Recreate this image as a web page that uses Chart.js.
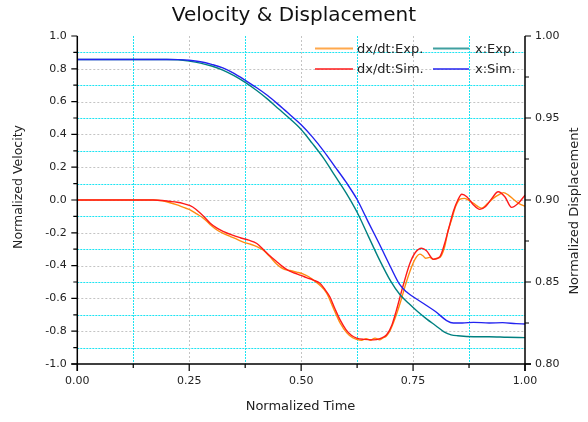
<!DOCTYPE html>
<html>
<head>
<meta charset="utf-8">
<script src="https://cdn.jsdelivr.net/npm/chart.js@4/dist/chart.umd.min.js"></script>
<style>
  html, body { margin: 0; padding: 0; background: #fff; }
  #wrap { width: 588px; height: 422px; }
</style>
</head>
<body>
<div id="wrap"><canvas id="c" width="588" height="422"></canvas></div>
<script>
// Normalized velocity, experiment (dx/dt:Exp.)
const velExpTime = [0, 0.10, 0.17, 0.19, 0.205, 0.223, 0.237, 0.252, 0.267, 0.282, 0.297, 0.312, 0.327, 0.342, 0.357, 0.372, 0.387, 0.401, 0.415, 0.43, 0.445, 0.46, 0.475, 0.49, 0.505, 0.517, 0.527, 0.542, 0.557, 0.572, 0.587, 0.602, 0.615, 0.624, 0.635, 0.645, 0.655, 0.665, 0.675, 0.683, 0.69, 0.698, 0.71, 0.721, 0.735, 0.75, 0.758, 0.765, 0.772, 0.778, 0.787, 0.795, 0.803, 0.81, 0.82, 0.828, 0.836, 0.845, 0.855, 0.865, 0.873, 0.885, 0.895, 0.903, 0.915, 0.929, 0.94, 0.952, 0.963, 0.974, 0.986, 1.0];
const velExp = [0, 0, 0, -0.005, -0.015, -0.03, -0.045, -0.06, -0.085, -0.112, -0.15, -0.183, -0.205, -0.223, -0.24, -0.258, -0.27, -0.284, -0.305, -0.345, -0.39, -0.42, -0.43, -0.44, -0.452, -0.468, -0.487, -0.52, -0.568, -0.66, -0.75, -0.81, -0.84, -0.85, -0.856, -0.845, -0.855, -0.842, -0.852, -0.84, -0.83, -0.80, -0.72, -0.63, -0.50, -0.386, -0.345, -0.33, -0.34, -0.355, -0.35, -0.362, -0.355, -0.35, -0.29, -0.19, -0.12, -0.04, 0.005, 0.01, 0.0, -0.02, -0.04, -0.05, -0.025, 0.01, 0.03, 0.045, 0.03, 0.005, -0.02, -0.038];

// Normalized velocity, simulation (dx/dt:Sim.)
const velSimTime = [0, 0.17, 0.19, 0.205, 0.223, 0.237, 0.252, 0.264, 0.275, 0.286, 0.297, 0.312, 0.327, 0.345, 0.364, 0.383, 0.401, 0.415, 0.43, 0.445, 0.458, 0.47, 0.485, 0.5, 0.512, 0.527, 0.542, 0.553, 0.564, 0.575, 0.587, 0.6, 0.612, 0.624, 0.64, 0.661, 0.676, 0.691, 0.703, 0.713, 0.728, 0.743, 0.755, 0.769, 0.78, 0.795, 0.81, 0.82, 0.829, 0.84, 0.85, 0.859, 0.87, 0.885, 0.899, 0.912, 0.926, 0.94, 0.955, 0.97, 0.985, 1.0];
const velSim = [0, 0, -0.003, -0.008, -0.014, -0.022, -0.035, -0.055, -0.081, -0.11, -0.142, -0.172, -0.193, -0.213, -0.23, -0.245, -0.265, -0.3, -0.34, -0.375, -0.405, -0.428, -0.445, -0.46, -0.473, -0.488, -0.508, -0.545, -0.59, -0.66, -0.731, -0.79, -0.825, -0.842, -0.85, -0.853, -0.845, -0.822, -0.76, -0.67, -0.52, -0.386, -0.32, -0.294, -0.31, -0.361, -0.345, -0.27, -0.18, -0.07, 0.0, 0.035, 0.02, -0.03, -0.057, -0.04, 0.01, 0.05, 0.02, -0.045, -0.02, 0.03];

// Normalized displacement, experiment (x:Exp.)
const dispExpTime = [0, 0.2, 0.225, 0.25, 0.275, 0.3, 0.325, 0.35, 0.375, 0.4, 0.425, 0.45, 0.475, 0.5, 0.525, 0.55, 0.575, 0.6, 0.625, 0.65, 0.675, 0.7, 0.72, 0.74, 0.76, 0.78, 0.8, 0.82, 0.835, 0.85, 0.885, 0.92, 0.96, 1.0];
const dispExp = [0.9857, 0.9857, 0.9855, 0.9847, 0.9835, 0.9817, 0.9792, 0.9758, 0.9717, 0.9669, 0.9615, 0.9555, 0.9495, 0.943, 0.9345, 0.9255, 0.915, 0.9045, 0.8925, 0.878, 0.8635, 0.8505, 0.8425, 0.837, 0.832, 0.8275, 0.8235, 0.8195, 0.8178, 0.8172, 0.8166, 0.8166, 0.8163, 0.8161];

// Normalized displacement, simulation (x:Sim.)
const dispSimTime = [0, 0.2, 0.225, 0.25, 0.275, 0.3, 0.325, 0.35, 0.375, 0.4, 0.425, 0.45, 0.475, 0.5, 0.525, 0.55, 0.575, 0.6, 0.625, 0.65, 0.675, 0.7, 0.72, 0.735, 0.75, 0.775, 0.8, 0.825, 0.84, 0.86, 0.885, 0.92, 0.95, 0.98, 1.0];
const dispSim = [0.9857, 0.9857, 0.9856, 0.9852, 0.9843, 0.9827, 0.9806, 0.9772, 0.973, 0.9686, 0.9637, 0.958, 0.952, 0.9459, 0.9385, 0.93, 0.9205, 0.911, 0.9003, 0.8865, 0.873, 0.859, 0.8485, 0.844, 0.841, 0.8366, 0.832, 0.8265, 0.825, 0.825, 0.8254, 0.825, 0.8252, 0.8246, 0.8244];

// Tick values
const timeTicks = [0, 0.25, 0.5, 0.75, 1.0];
const velTicks = [-1.0, -0.8, -0.6, -0.4, -0.2, 0.0, 0.2, 0.4, 0.6, 0.8, 1.0];
const dispTicks = [0.80, 0.85, 0.90, 0.95, 1.00];

const FONT = "'DejaVu Sans', sans-serif";
const zip = (xs, ys) => xs.map((x, i) => ({ x, y: ys[i] }));

// legend slot [column, row] for each series
const series = [
  { label: 'dx/dt:Exp.', data: zip(velExpTime, velExp), color: '#ff8c10', axis: 'y', order: 4, slot: [0, 0] },
  { label: 'dx/dt:Sim.', data: zip(velSimTime, velSim), color: '#ff1a1a', axis: 'y', order: 3, slot: [0, 1] },
  { label: 'x:Exp.', data: zip(dispExpTime, dispExp), color: '#008080', axis: 'y2', order: 2, slot: [1, 0] },
  { label: 'x:Sim.', data: zip(dispSimTime, dispSim), color: '#2323f0', axis: 'y2', order: 1, slot: [1, 1] }
];

// Grid lines, axis lines, tick marks, axis titles and legend
const decor = {
  id: 'decor',
  beforeDatasetsDraw(chart) {
    const { ctx, chartArea: a, scales } = chart;
    ctx.save();
    ctx.lineWidth = 1;
    // horizontal grid (velocity tenths)
    for (let k = -9; k <= 9; k++) {
      const y = Math.round(scales.y.getPixelForValue(k / 10)) + 0.5;
      const odd = Math.abs(k) % 2 === 1;
      ctx.strokeStyle = odd ? '#1de4f2' : '#c4c4c4';
      ctx.setLineDash(odd ? [2, 1] : [2, 2]);
      ctx.beginPath(); ctx.moveTo(a.left, y); ctx.lineTo(a.right, y); ctx.stroke();
    }
    // vertical grid (time eighths)
    for (let k = 1; k <= 7; k++) {
      const x = Math.round(scales.x.getPixelForValue(k / 8)) + 0.5;
      const odd = k % 2 === 1;
      ctx.strokeStyle = odd ? '#1de4f2' : '#c4c4c4';
      ctx.setLineDash(odd ? [2, 1] : [2, 2]);
      ctx.beginPath(); ctx.moveTo(x, a.top); ctx.lineTo(x, a.bottom); ctx.stroke();
    }
    ctx.restore();
  },
  afterDraw(chart) {
    const { ctx, chartArea: a, scales } = chart;
    ctx.save();
    ctx.strokeStyle = '#000';
    ctx.lineWidth = 1.5;
    ctx.setLineDash([]);
    // axis lines
    ctx.beginPath();
    ctx.moveTo(a.left, a.top); ctx.lineTo(a.left, a.bottom + 7);
    ctx.moveTo(a.left - 6, a.bottom); ctx.lineTo(a.right + 6, a.bottom);
    ctx.moveTo(a.right, a.top); ctx.lineTo(a.right, a.bottom + 7);
    ctx.stroke();
    ctx.lineWidth = 1.2;
    ctx.beginPath();
    // left ticks
    for (let k = -10; k <= 10; k++) {
      const y = scales.y.getPixelForValue(k / 10);
      const len = k % 2 === 0 ? 6 : 4;
      ctx.moveTo(a.left - len, y); ctx.lineTo(a.left, y);
    }
    // right ticks
    for (let k = 0; k <= 8; k++) {
      const y = scales.y2.getPixelForValue(0.8 + k * 0.025);
      const len = k % 2 === 0 ? 6 : 4;
      ctx.moveTo(a.right, y); ctx.lineTo(a.right + len, y);
    }
    // bottom ticks
    for (let k = 0; k <= 8; k++) {
      const x = scales.x.getPixelForValue(k / 8);
      const len = k % 2 === 0 ? 7 : 4;
      ctx.moveTo(x, a.bottom); ctx.lineTo(x, a.bottom + len);
    }
    ctx.stroke();

    // axis titles
    ctx.fillStyle = '#222';
    ctx.textBaseline = 'middle';
    ctx.textAlign = 'center';
    ctx.font = '13px ' + FONT;
    ctx.fillText('Normalized Time', 300.5, 407);
    ctx.save();
    ctx.translate(18.5, 187);
    ctx.rotate(-Math.PI / 2);
    ctx.font = '12.5px ' + FONT;
    ctx.fillText('Normalized Velocity', 0, 0);
    ctx.restore();
    ctx.save();
    ctx.translate(574.5, 211);
    ctx.rotate(-Math.PI / 2);
    ctx.font = '13px ' + FONT;
    ctx.fillText('Normalized Displacement', 0, 0);
    ctx.restore();

    // legend, two columns
    const cols = [[315, 353, 357], [433, 469, 475]];
    const rows = [48.5, 69];
    ctx.font = '13px ' + FONT;
    ctx.textAlign = 'left';
    chart.data.datasets.forEach((ds, i) => {
      const [c, r] = series[i].slot;
      const [x0, x1, tx] = cols[c];
      const y = rows[r];
      ctx.strokeStyle = ds.borderColor;
      ctx.globalAlpha = 0.75;
      ctx.lineWidth = 2;
      ctx.beginPath(); ctx.moveTo(x0, y); ctx.lineTo(x1, y); ctx.stroke();
      ctx.globalAlpha = 1;
      ctx.fillStyle = '#222';
      ctx.fillText(ds.label, tx, y + 1);
    });
    ctx.restore();
  }
};

const fmtTick = d => function (v) {
  const val = Math.abs(v) < 1e-9 ? 0 : v;
  return val.toFixed(d);
};

new Chart(document.getElementById('c'), {
  type: 'line',
  data: {
    datasets: series.map(s => ({
      label: s.label,
      data: s.data,
      borderColor: s.color,
      backgroundColor: s.color,
      borderWidth: 1.4,
      pointRadius: 0,
      cubicInterpolationMode: 'monotone',
      yAxisID: s.axis,
      order: s.order
    }))
  },
  options: {
    responsive: false,
    animation: false,
    parsing: false,
    layout: { padding: 0 },
    plugins: {
      legend: { display: false },
      tooltip: { enabled: false },
      title: {
        display: true,
        text: 'Velocity & Displacement',
        color: '#111',
        font: { family: FONT, size: 20, weight: 'normal', lineHeight: 1.2 },
        padding: { top: 4, bottom: 8 }
      }
    },
    scales: {
      x: {
        type: 'linear', min: 0, max: 1,
        afterBuildTicks: s => { s.ticks = timeTicks.map(v => ({ value: v })); },
        ticks: { callback: fmtTick(2), color: '#222', font: { family: FONT, size: 11 }, padding: 11, maxRotation: 0 },
        grid: { display: false, drawTicks: false },
        border: { display: false },
        afterFit: s => { s.height = 58; }
      },
      y: {
        type: 'linear', position: 'left', min: -1, max: 1,
        afterBuildTicks: s => { s.ticks = velTicks.map(v => ({ value: v })); },
        ticks: { callback: fmtTick(1), color: '#222', font: { family: FONT, size: 11 }, padding: 10.5 },
        grid: { display: false, drawTicks: false },
        border: { display: false },
        afterFit: s => { s.width = 77.3; }
      },
      y2: {
        type: 'linear', position: 'right', min: 0.8, max: 1.0,
        afterBuildTicks: s => { s.ticks = dispTicks.map(v => ({ value: v })); },
        ticks: { callback: fmtTick(2), color: '#222', font: { family: FONT, size: 11 }, padding: 10 },
        grid: { display: false, drawTicks: false },
        border: { display: false },
        afterFit: s => { s.width = 63; }
      }
    }
  },
  plugins: [decor]
});
</script>
</body>
</html>
